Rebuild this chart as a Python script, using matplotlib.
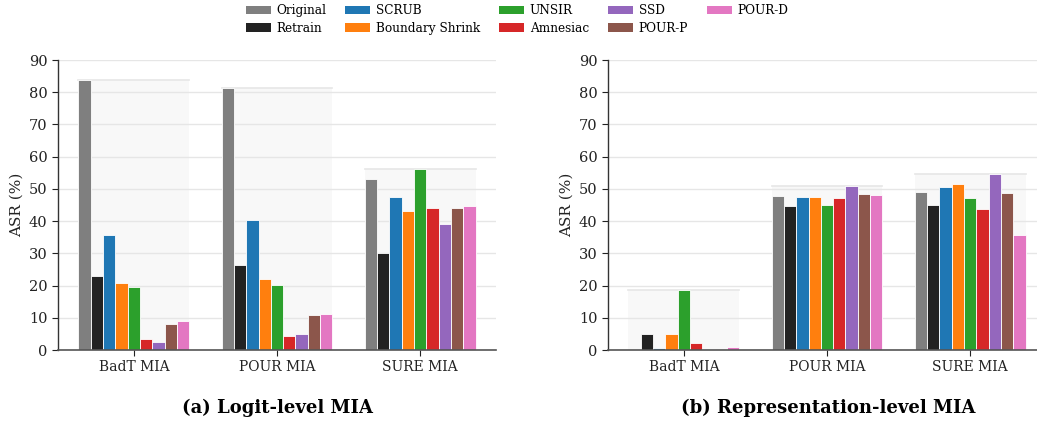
import numpy as np
import matplotlib
matplotlib.use("Agg")
import matplotlib.pyplot as plt
from matplotlib.patches import Rectangle, Patch

plt.rcParams['font.family'] = ['DejaVu Serif']

categories = ["BadT MIA", "POUR MIA", "SURE MIA"]
methods = ["Original", "Retrain", "SCRUB", "Boundary Shrink", "UNSIR",
           "Amnesiac", "SSD", "POUR-P", "POUR-D"]
colors = ["#7f7f7f", "#222222", "#1f77b4", "#ff7f0e", "#2ca02c",
          "#d62728", "#9467bd", "#8c564b", "#e377c2"]

# Logit-level MIA: one list per method, values per category
logit_original = [83.7, 81.3, 53.1]
logit_retrain = [23.0, 26.4, 30.1]
logit_scrub = [35.7, 40.3, 47.5]
logit_bs = [20.8, 22.0, 43.1]
logit_unsir = [19.6, 20.2, 56.2]
logit_amnesiac = [3.4, 4.3, 44.1]
logit_ssd = [2.5, 5.0, 39.1]
logit_pourp = [8.1, 10.9, 44.1]
logit_pourd = [9.0, 11.2, 44.7]

# Representation-level MIA
rep_original = [0.0, 47.8, 49.0]
rep_retrain = [5.0, 44.7, 45.0]
rep_scrub = [0.6, 47.5, 50.6]
rep_bs = [5.0, 47.5, 51.5]
rep_unsir = [18.6, 45.0, 47.2]
rep_amnesiac = [2.2, 47.2, 43.8]
rep_ssd = [0.3, 50.9, 54.6]
rep_pourp = [0.3, 48.4, 48.7]
rep_pourd = [0.9, 48.1, 35.7]

logit = [logit_original, logit_retrain, logit_scrub, logit_bs, logit_unsir,
         logit_amnesiac, logit_ssd, logit_pourp, logit_pourd]
rep = [rep_original, rep_retrain, rep_scrub, rep_bs, rep_unsir,
       rep_amnesiac, rep_ssd, rep_pourp, rep_pourd]

W, H = 1037, 421
fig = plt.figure(figsize=(W / 100, H / 100), dpi=100)

ax1 = fig.add_axes([58 / W, 1 - 350 / H, (496 - 58) / W, 290 / H])
ax2 = fig.add_axes([608 / W, 1 - 350 / H, (1046 - 608) / W, 290 / H])

bw = 0.086
n = len(methods)
x = np.arange(len(categories))


def draw(ax, data, title, title_x):
    for c in range(len(categories)):
        left = x[c] - n * bw / 2
        top = max(row[c] for row in data)
        ax.add_patch(Rectangle((left, 0), n * bw, top, facecolor="#f8f8f8",
                               edgecolor="none", zorder=0.5))
        ax.plot([left, left + n * bw], [top, top], color="#e6e6e6", lw=1.2,
                zorder=0.6)
    for i, (row, col) in enumerate(zip(data, colors)):
        offs = x + (i - (n - 1) / 2) * bw
        ax.bar(offs, row, width=bw, color=col, edgecolor="white",
               linewidth=0.6, zorder=2, label=methods[i])
    ax.set_ylim(0, 90)
    ax.set_yticks(range(0, 91, 10))
    ax.set_xlim(-0.53, 2.53)
    ax.set_xticks(x)
    ax.set_xticklabels(categories, fontsize=10)
    ax.tick_params(axis='y', labelsize=10.5, colors="#222222", length=4)
    ax.tick_params(axis='x', length=4, colors="#222222")
    ax.set_ylabel("ASR (%)", fontsize=11, color="#222222")
    ax.yaxis.grid(True, color="#e6e6e6", lw=1.0, zorder=0)
    ax.set_axisbelow(True)
    for s in ["top", "right"]:
        ax.spines[s].set_visible(False)
    ax.spines["left"].set_color("#333333")
    ax.spines["bottom"].set_color("#555555")
    ax.spines["left"].set_linewidth(1.0)
    ax.spines["bottom"].set_linewidth(1.2)
    ax.text(title_x, -0.2, title, transform=ax.transAxes, ha="center",
            va="center", fontsize=13, fontweight="bold")


draw(ax1, logit, "(a) Logit-level MIA", (277 - 58) / (496 - 58))
draw(ax2, rep, "(b) Representation-level MIA", (828 - 608) / (1046 - 608))

handles = [Patch(facecolor=c, edgecolor="none") for c in colors]
fig.legend(handles, methods, loc="upper center", ncol=5,
           bbox_to_anchor=(517 / W, 0.996), frameon=False, fontsize=8.7,
           handlelength=2.1, handleheight=0.7, columnspacing=1.55,
           handletextpad=0.45, labelspacing=0.4, borderaxespad=0.0,
           borderpad=0.2)

fig.savefig("out.png", dpi=100)
